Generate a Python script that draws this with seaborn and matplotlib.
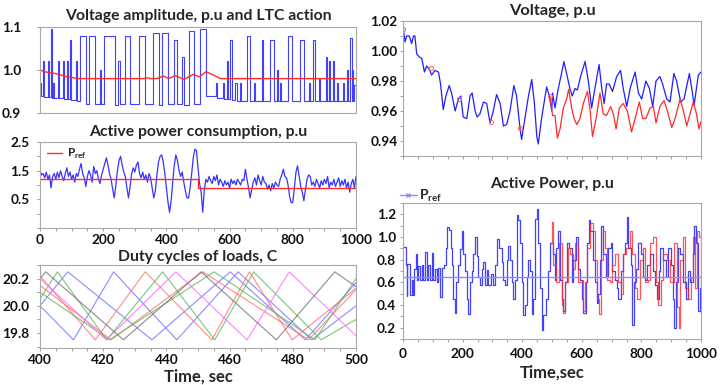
import numpy as np
import seaborn as sns
import matplotlib
matplotlib.use('Agg')
import matplotlib.pyplot as plt
from matplotlib.lines import Line2D
from matplotlib.ticker import MultipleLocator, FixedLocator

# ---- voltage amplitude (step signal) and LTC action ----
volt_t = [0, 2, 11, 14, 24, 29, 34, 37, 42, 45, 58, 61, 72, 76, 85, 89, 95, 98, 114, 118,
          127, 144, 156, 174, 190, 194, 201, 238, 248, 252, 270, 285, 312, 331, 357, 376, 386, 404, 423, 433,
          450, 455, 470, 486, 507, 524, 558, 561, 578, 581, 592, 595, 602, 607, 618, 622, 634, 637, 655, 664,
          676, 681, 701, 705, 727, 742, 750, 754, 761, 764, 784, 799, 824, 837, 851, 854, 865, 869, 883, 886,
          904, 907, 914, 917, 928, 931, 941, 944, 960, 963, 972, 976, 981, 986, 988, 991, 994, 1000]
volt_v = [0.97, 0.94, 1.02, 0.938, 1.02, 0.937, 1.095, 0.936, 0.97, 0.935, 1.02, 0.935, 1.02, 0.933, 1.02, 0.932,
          1.07, 0.93, 1.02, 0.928,
          1.08, 0.922, 1.08, 0.92, 1.0, 0.92, 1.08, 0.918, 1.02, 0.92, 1.08, 0.92, 1.08, 0.92, 1.085, 0.918,
          1.085, 0.92, 1.07, 0.92,
          1.03, 0.918, 1.09, 0.92, 1.095, 0.94, 0.97, 0.935, 0.97, 0.933, 1.02, 0.932, 1.07, 0.93, 0.97, 0.928,
          0.97, 0.928, 1.08, 0.927,
          0.97, 0.927, 1.07, 0.927, 1.07, 0.927, 1.0, 0.927, 0.97, 0.927, 1.08, 0.927, 1.07, 0.927, 0.97, 0.927,
          1.07, 0.927, 0.98, 0.927,
          1.03, 0.927, 1.02, 0.927, 1.02, 0.927, 0.97, 0.927, 0.97, 0.927, 1.0, 0.927, 1.075, 0.927, 1.0, 0.927,
          0.965, 0.965]
ltc_t = [0, 20, 40, 60, 80, 100, 116, 330, 338, 350, 370, 391, 407, 428, 455, 486, 504, 525, 550, 571, 1000]
ltc_v = [1.0, 0.995, 0.993, 0.99, 0.985, 0.983, 0.98, 0.98, 0.982, 0.98, 0.98, 0.986, 0.98, 0.987, 0.978,
         0.99, 0.984, 0.996, 0.988, 0.98, 0.98]

# ---- active power consumption ----
cons_t = list(range(0, 1001, 5))
cons_v = [1.5, 1.35, 1.4, 1.25, 1.45, 1.2, 1.35, 0.9, 1.3, 1.4, 1.2, 1.45, 1.25, 1.5, 1.3, 1.15, 1.4, 1.6, 1.3, 1.45,
          1.2, 1.35, 1.1, 1.4, 1.3, 1.55, 1.75, 1.4, 1.25, 0.95, 1.3, 1.5, 1.35, 1.1, 1.65, 1.4, 1.5, 1.2, 1.05, 1.35,
          1.55, 1.75, 1.95, 1.7, 1.4, 1.2, 0.85, 0.55, 1.0, 1.5, 1.85, 2.0, 1.7, 1.45, 1.3, 0.9, 0.55, 0.95, 1.4, 1.6,
          1.45, 1.7, 1.8, 1.4, 1.25, 1.45, 1.2, 1.35, 1.1, 1.4, 1.25, 0.9, 0.55, 0.8, 1.35, 1.8, 2.0, 2.05, 1.8, 1.4,
          0.9, 0.4, 0.05, 0.45, 1.1, 1.7, 2.05, 1.85, 1.5, 1.3, 1.45, 1.1, 0.8, 0.55, 0.55, 0.9, 1.4, 1.95, 2.25, 2.2,
          1.6, 1.05, 0.75, 0.05, 0.85, 1.2, 1.1, 1.3, 1.15, 1.05, 1.3, 1.15, 1.35, 1.0, 1.2, 1.1, 0.95, 1.15, 1.0, 1.1,
          0.9, 1.2, 1.05, 1.15, 1.0, 1.2, 1.1, 1.0, 1.2, 1.15, 1.55, 1.2, 0.9, 0.55, 0.85, 1.1, 1.25, 1.0, 1.35, 1.15,
          1.0, 1.3, 1.1, 1.05, 0.85, 1.0, 0.8, 1.05, 0.9, 1.1, 1.0, 0.95, 1.2, 1.35, 1.55, 1.3, 1.25, 1.0, 0.6, 0.38,
          0.4, 0.9, 1.45, 1.67, 1.3, 0.95, 0.75, 0.45, 0.85, 1.2, 1.35, 1.3, 1.0, 1.1, 0.95, 1.2, 1.05, 0.9, 1.15, 1.0,
          1.2, 1.05, 1.3, 0.9, 1.1, 1.0, 1.2, 0.95, 1.1, 1.25, 0.95, 1.15, 1.0, 1.2, 0.9, 1.1, 0.75, 1.05, 1.2, 0.9,
          1.3]
cons_ref_t = [0, 500, 1000]
cons_ref_v = [1.2, 0.9, 0.9]

# ---- duty cycles of loads (vertices of each thermostat cycle) ----
duty = [
    ('#6f6fff', [400, 408.8, 435.4, 460.2, 484, 500], [20.0, 20.25, 19.75, 20.25, 19.75, 20.17]),
    ('#6f6fff', [400, 410.6, 423.3, 443.3, 462.7, 486, 500], [20.0, 19.75, 20.25, 19.75, 20.25, 19.75, 20.0]),
    ('#ff6f6f', [400, 417.5, 433.3, 454.4, 466.3, 479.8, 500], [20.22, 19.75, 20.25, 19.75, 20.25, 19.75, 20.13]),
    ('#ff6f6f', [400, 422.5, 451.5, 485, 500], [20.15, 19.75, 20.25, 19.75, 20.12]),
    ('#5cb85c', [400, 405.5, 421.1, 438.8, 455.3, 467.6, 489, 500], [20.05, 20.25, 19.75, 20.25, 19.75, 20.25, 19.75, 19.9]),
    ('#5cb85c', [400, 422, 455.1, 487, 500], [20.1, 19.75, 20.25, 19.75, 20.2]),
    ('#ff66ff', [400, 421, 443, 465.5, 478.9, 500], [20.2, 19.75, 20.25, 19.75, 20.25, 19.78]),
    ('#707070', [400, 401.8, 426.4, 451, 474.8, 493.3, 500], [20.2, 20.25, 19.75, 20.25, 19.75, 20.25, 20.14]),
]

# ---- voltage at bus ----
vb_t = [1, 7, 12, 21, 29, 35, 40, 46, 55, 63, 72, 79, 88, 96, 107, 119, 126, 135, 144, 155,
        163, 175, 186, 194, 202, 214, 225, 232, 242, 249, 258, 270, 281, 292, 303, 314, 326, 337, 348, 359,
        372, 381, 393, 398, 409, 421, 432, 441, 449, 454, 465, 477, 482, 491, 499, 502, 510, 521, 532, 540,
        549, 560, 568, 577, 585, 596, 611, 622, 633, 644, 658, 667, 675, 683, 692, 703, 717, 730, 739, 751,
        762, 779, 790, 801, 815, 827, 838, 849, 862, 871, 885, 896, 909, 918, 932, 943, 961, 969, 977, 991, 1000]
vb_v = [1.015, 1.006, 1.01, 1.01, 1.005, 1.01, 1.01, 0.998, 0.996, 0.995, 0.986, 0.99, 0.988, 0.984, 0.987,
        0.986, 0.978, 0.961, 0.97, 0.977, 0.972, 0.96, 0.968, 0.97, 0.956, 0.955, 0.97, 0.972, 0.96, 0.956,
        0.958, 0.966, 0.965, 0.952, 0.96, 0.971, 0.965, 0.95, 0.951, 0.96, 0.977, 0.97, 0.948, 0.941, 0.955,
        0.97, 0.981, 0.965, 0.943, 0.938, 0.955, 0.97, 0.976, 0.97, 0.96, 0.972, 0.962, 0.975, 0.985, 0.993,
        0.985, 0.975, 0.97, 0.975, 0.974, 0.983, 0.993, 0.98, 0.962, 0.975, 0.991, 0.975, 0.965, 0.978, 0.978,
        0.973, 0.983, 0.987, 0.975, 0.963, 0.975, 0.986, 0.972, 0.968, 0.98, 0.975, 0.963, 0.98, 0.983, 0.978,
        0.968, 0.966, 0.985, 0.98, 0.966, 0.968, 0.985, 0.975, 0.964, 0.984, 0.986]
vr_t = [493, 502, 510, 518, 527, 538, 549, 556, 566, 574, 583, 594, 605, 619, 628, 636, 648, 661, 672, 683,
        697, 706, 715, 726, 739, 753, 767, 779, 793, 804, 815, 829, 840, 849, 862, 876, 887, 902, 913, 930,
        941, 952, 963, 974, 985, 993, 1000]
vr_v = [0.97, 0.957, 0.957, 0.942, 0.948, 0.962, 0.968, 0.9745, 0.962, 0.955, 0.951, 0.955, 0.965, 0.973,
        0.96, 0.943, 0.955, 0.972, 0.958, 0.957, 0.963, 0.958, 0.948, 0.962, 0.965, 0.96, 0.946, 0.955, 0.966,
        0.955, 0.955, 0.962, 0.963, 0.952, 0.963, 0.967, 0.96, 0.949, 0.955, 0.968, 0.96, 0.95, 0.958, 0.966,
        0.958, 0.948, 0.953]
vmark_t = [1, 94, 189, 294, 393, 493]
vmark_v = [1.015, 0.989, 0.968, 0.953, 0.949, 0.97]

# ---- active power (step signals) ----
pb_t = [1, 9, 12, 15, 23, 29, 32, 37, 44, 48, 51, 57, 63, 68, 74, 79, 85, 91, 96, 102, 107, 113, 119, 124,
        130, 138, 144, 149, 155, 160, 164, 169, 173, 178, 186, 191, 197, 202, 208, 214, 219, 225, 230, 236,
        242, 247, 253, 258, 264, 270, 275, 281, 286, 294, 303, 309, 317, 323, 331, 337, 342, 348, 353, 359,
        365, 370, 376, 381, 387, 393, 398, 404, 409, 415, 421, 426, 432, 437, 443, 449, 454, 460, 465, 471,
        480, 488, 493, 504, 510, 515, 521, 527, 532, 538, 543, 549, 558, 566, 571, 580, 588, 594, 599, 605,
        614, 618, 624, 629, 636, 644, 650, 655, 661, 666, 672, 681, 689, 697, 703, 711, 717, 722, 730, 737,
        745, 750, 756, 764, 768, 775, 782, 789, 797, 806, 813, 820, 829, 838, 845, 851, 858, 864, 873, 882,
        890, 898, 905, 909, 916, 924, 931, 940, 949, 956, 963, 972, 977, 983, 989, 996, 1000]
pb_v = [0.91, 0.75, 0.48, 0.76, 0.49, 0.62, 0.49, 0.72, 0.85, 0.62, 0.74, 0.62, 0.75, 0.62, 0.87, 0.62, 0.75,
        0.62, 0.86, 0.62, 0.72, 0.6, 0.73, 0.47, 0.73, 0.75, 0.9, 1.09, 1.06, 0.9, 0.75, 0.45, 0.33, 0.6, 0.75,
        0.89, 1.05, 0.85, 0.7, 0.45, 0.32, 0.6, 0.7, 0.85, 1.0, 0.83, 0.65, 0.58, 0.72, 0.78, 0.58, 0.71, 0.58,
        0.67, 0.58, 0.75, 0.98, 0.9, 0.78, 0.62, 0.58, 0.8, 0.92, 0.8, 0.6, 0.45, 0.62, 1.19, 1.15, 0.95, 0.6,
        0.31, 0.4, 0.65, 0.8, 0.7, 0.32, 0.45, 1.16, 1.25, 0.95, 0.55, 0.18, 0.31, 0.45, 0.7, 0.95, 0.85, 0.62,
        0.9, 1.05, 0.62, 0.45, 0.35, 0.6, 0.95, 0.9, 0.6, 0.8, 1.0, 0.72, 0.62, 0.45, 0.33, 0.6, 0.95, 1.15,
        1.05, 0.8, 0.6, 0.42, 0.5, 0.8, 1.1, 0.85, 0.65, 0.9, 0.95, 0.7, 0.62, 0.55, 0.45, 0.7, 0.85, 0.95,
        1.18, 0.9, 0.75, 0.22, 0.6, 0.72, 0.95, 0.85, 0.65, 0.62, 0.75, 0.85, 0.7, 0.58, 0.45, 0.7, 0.9, 0.8,
        0.65, 0.9, 0.75, 0.45, 0.2, 0.6, 0.9, 0.85, 0.6, 0.45, 0.7, 0.6, 0.85, 1.1, 0.95, 0.35, 0.55, 0.6]
pr_t = [493, 499, 504, 515, 524, 532, 538, 543, 555, 562, 569, 577, 588, 599, 605, 610, 618, 627, 636, 644,
        652, 659, 666, 672, 678, 685, 694, 703, 711, 722, 730, 737, 748, 761, 767, 778, 786, 795, 804, 812,
        821, 829, 838, 849, 857, 865, 873, 885, 896, 909, 918, 925, 931, 938, 946, 957, 965, 972, 980, 985,
        992, 999]
pr_v = [0.95, 1.13, 0.75, 0.6, 0.95, 0.4, 0.33, 0.6, 0.9, 0.85, 0.72, 0.95, 0.6, 0.62, 0.35, 0.6, 0.9, 1.12,
        1.05, 0.8, 0.45, 0.32, 0.8, 1.05, 0.9, 0.62, 0.6, 0.75, 0.85, 0.6, 0.5, 0.85, 0.9, 1.05, 0.85, 0.55,
        0.45, 0.8, 0.9, 0.6, 0.62, 0.95, 1.0, 0.6, 0.4, 0.62, 0.85, 0.8, 0.6, 0.95, 0.38, 0.2, 0.8, 1.0, 0.55,
        0.45, 0.65, 1.0, 0.55, 1.05, 1.0, 0.6]
pref_t = [0, 1000]
pref_v = [0.65, 0.65]

BLUE = '#1f1fff'
RED = '#ff2a2a'
TITLE_FS = 11.3

sns.set_theme(style='ticks')
plt.rcParams['font.family'] = ['Lato', 'DejaVu Sans']
plt.rcParams['font.weight'] = 'bold'
plt.rcParams['mathtext.fontset'] = 'custom'
plt.rcParams['mathtext.rm'] = 'Lato'
plt.rcParams['mathtext.bf'] = 'Lato:bold'

fig = plt.figure(figsize=(7.24, 3.85), dpi=100)
W, H = 724.0, 385.0


def box(x0, x1, y0, y1):
    return [x0 / W, 1 - y1 / H, (x1 - x0) / W, (y1 - y0) / H]


def style(ax, ypad):
    for s in ax.spines.values():
        s.set_visible(True)
        s.set_color('#a8a8a8')
        s.set_linewidth(0.8)
    ax.tick_params(which='both', direction='out', color='#a0a0a0', length=2.5, width=0.7,
                   labelsize=9.8, labelcolor='#111111')
    ax.tick_params(axis='y', pad=ypad)
    ax.tick_params(axis='x', pad=1.5)
    for lab in ax.get_xticklabels() + ax.get_yticklabels():
        lab.set_fontweight('bold')


ax1 = fig.add_axes(box(40, 356, 27, 113))
ax2 = fig.add_axes(box(40, 356, 142, 228))
ax3 = fig.add_axes(box(40, 356, 265, 348))
ax4 = fig.add_axes(box(403, 701, 21, 156))
ax5 = fig.add_axes(box(403, 701, 203, 339))

# voltage amplitude + LTC
sns.lineplot(x=volt_t, y=volt_v, ax=ax1, color=BLUE, lw=0.8, alpha=0.85, drawstyle='steps-post',
             estimator=None, sort=False, legend=False)
sns.lineplot(x=ltc_t, y=ltc_v, ax=ax1, color=RED, lw=1.0, estimator=None, sort=False, legend=False)
ax1.set_xlim(0, 1000)
ax1.set_ylim(0.9, 1.1)
ax1.set_yticks([0.9, 1.0, 1.1])
ax1.set_yticklabels(['0.9', '1.0', '1.1'])
ax1.set_xticks([])
style(ax1, 11)
ax1.set_title('Voltage amplitude, p.u and LTC action', fontsize=TITLE_FS, fontweight='bold', pad=5)

# active power consumption
sns.lineplot(x=cons_t, y=cons_v, ax=ax2, color=BLUE, lw=0.9, alpha=0.9, estimator=None, sort=False,
             legend=False)
sns.lineplot(x=cons_ref_t, y=cons_ref_v, ax=ax2, color=RED, lw=1.0, drawstyle='steps-post',
             estimator=None, sort=False, legend=False)
ax2.set_xlim(0, 1000)
ax2.set_ylim(-0.5, 2.5)
ax2.yaxis.set_major_locator(FixedLocator([0.5, 1.5, 2.5]))
ax2.yaxis.set_minor_locator(MultipleLocator(0.5))
ax2.xaxis.set_major_locator(MultipleLocator(200))
ax2.xaxis.set_minor_locator(MultipleLocator(50))
style(ax2, 5)
ax2.set_title('Active power consumption, p.u', fontsize=TITLE_FS, fontweight='bold', pad=4)
ax2.legend(handles=[Line2D([], [], color=RED, lw=1.0)], labels=['P$_{\\mathrm{ref}}$'],
           loc='upper left', bbox_to_anchor=(0.0, 1.02), frameon=False, fontsize=8.5,
           handlelength=1.3, handletextpad=0.4, borderaxespad=0.2)

# duty cycles
for col, tt, vv in duty:
    sns.lineplot(x=tt, y=vv, ax=ax3, color=col, lw=0.8, alpha=0.8, estimator=None, sort=False,
                 legend=False)
ax3.set_xlim(400, 500)
ax3.set_ylim(19.69, 20.3)
ax3.set_yticks([19.8, 20.0, 20.2])
ax3.set_yticklabels(['19.8', '20.0', '20.2'])
ax3.yaxis.set_minor_locator(MultipleLocator(0.1))
ax3.xaxis.set_major_locator(MultipleLocator(20))
ax3.xaxis.set_minor_locator(MultipleLocator(5))
style(ax3, 5)
ax3.set_title('Duty cycles of loads, C', fontsize=TITLE_FS, fontweight='bold', pad=3)
ax3.set_xlabel('Time, sec', fontsize=12, fontweight='bold', labelpad=2)
ax3.set_ylabel('')

# voltage
sns.lineplot(x=vb_t, y=vb_v, ax=ax4, color=BLUE, lw=0.9, estimator=None, sort=False, legend=False)
sns.lineplot(x=vr_t, y=vr_v, ax=ax4, color=RED, lw=0.9, estimator=None, sort=False, legend=False)
ax4.plot(vmark_t, vmark_v, ls='none', marker='o', ms=3, mfc='none', mec='#ff6060', mew=0.7)
ax4.set_xlim(0, 1000)
ax4.set_ylim(0.93, 1.02)
ax4.set_yticks([0.94, 0.96, 0.98, 1.00, 1.02])
ax4.set_yticklabels(['0.94', '0.96', '0.98', '1.00', '1.02'])
ax4.yaxis.set_minor_locator(MultipleLocator(0.01))
ax4.xaxis.set_major_locator(MultipleLocator(50))
ax4.set_xticklabels([])
style(ax4, 1.5)
ax4.set_title('Voltage, p.u', fontsize=TITLE_FS + 0.5, fontweight='bold', pad=4)

# active power
sns.lineplot(x=pb_t, y=pb_v, ax=ax5, color=BLUE, lw=0.9, alpha=0.85, drawstyle='steps-post',
             estimator=None, sort=False, legend=False)
sns.lineplot(x=pr_t, y=pr_v, ax=ax5, color=RED, lw=0.9, alpha=0.8, drawstyle='steps-post',
             estimator=None, sort=False, legend=False)
sns.lineplot(x=pref_t, y=pref_v, ax=ax5, color='#8c8cff', lw=1.0, estimator=None, sort=False,
             legend=False)
ax5.set_xlim(0, 1000)
ax5.set_ylim(0.1, 1.3)
ax5.set_yticks([0.2, 0.4, 0.6, 0.8, 1.0, 1.2])
ax5.set_yticklabels(['0.2', '0.4', '0.6', '0.8', '1.0', '1.2'])
ax5.yaxis.set_minor_locator(MultipleLocator(0.1))
ax5.xaxis.set_major_locator(MultipleLocator(200))
ax5.xaxis.set_minor_locator(MultipleLocator(50))
style(ax5, 2.5)
ax5.tick_params(axis='x', pad=4)
ax5.set_title('Active Power, p.u', fontsize=TITLE_FS, fontweight='bold', pad=11)
ax5.set_xlabel('Time,sec', fontsize=12, fontweight='bold', labelpad=3)
ax5.legend(handles=[Line2D([], [], color='#8c8cff', lw=1.0, marker='x', ms=3)],
           labels=['$\\mathbf{P}_{\\mathbf{ref}}$'], loc='lower left', bbox_to_anchor=(-0.01, 0.99),
           frameon=False, fontsize=10, handlelength=1.2, handletextpad=0.2, borderaxespad=0.0,
           borderpad=0.0)

for ax in (ax1, ax2, ax4):
    ax.set_xlabel('')
for ax in (ax1, ax2, ax3, ax4, ax5):
    ax.set_ylabel('')

fig.savefig('out.png', dpi=100)
